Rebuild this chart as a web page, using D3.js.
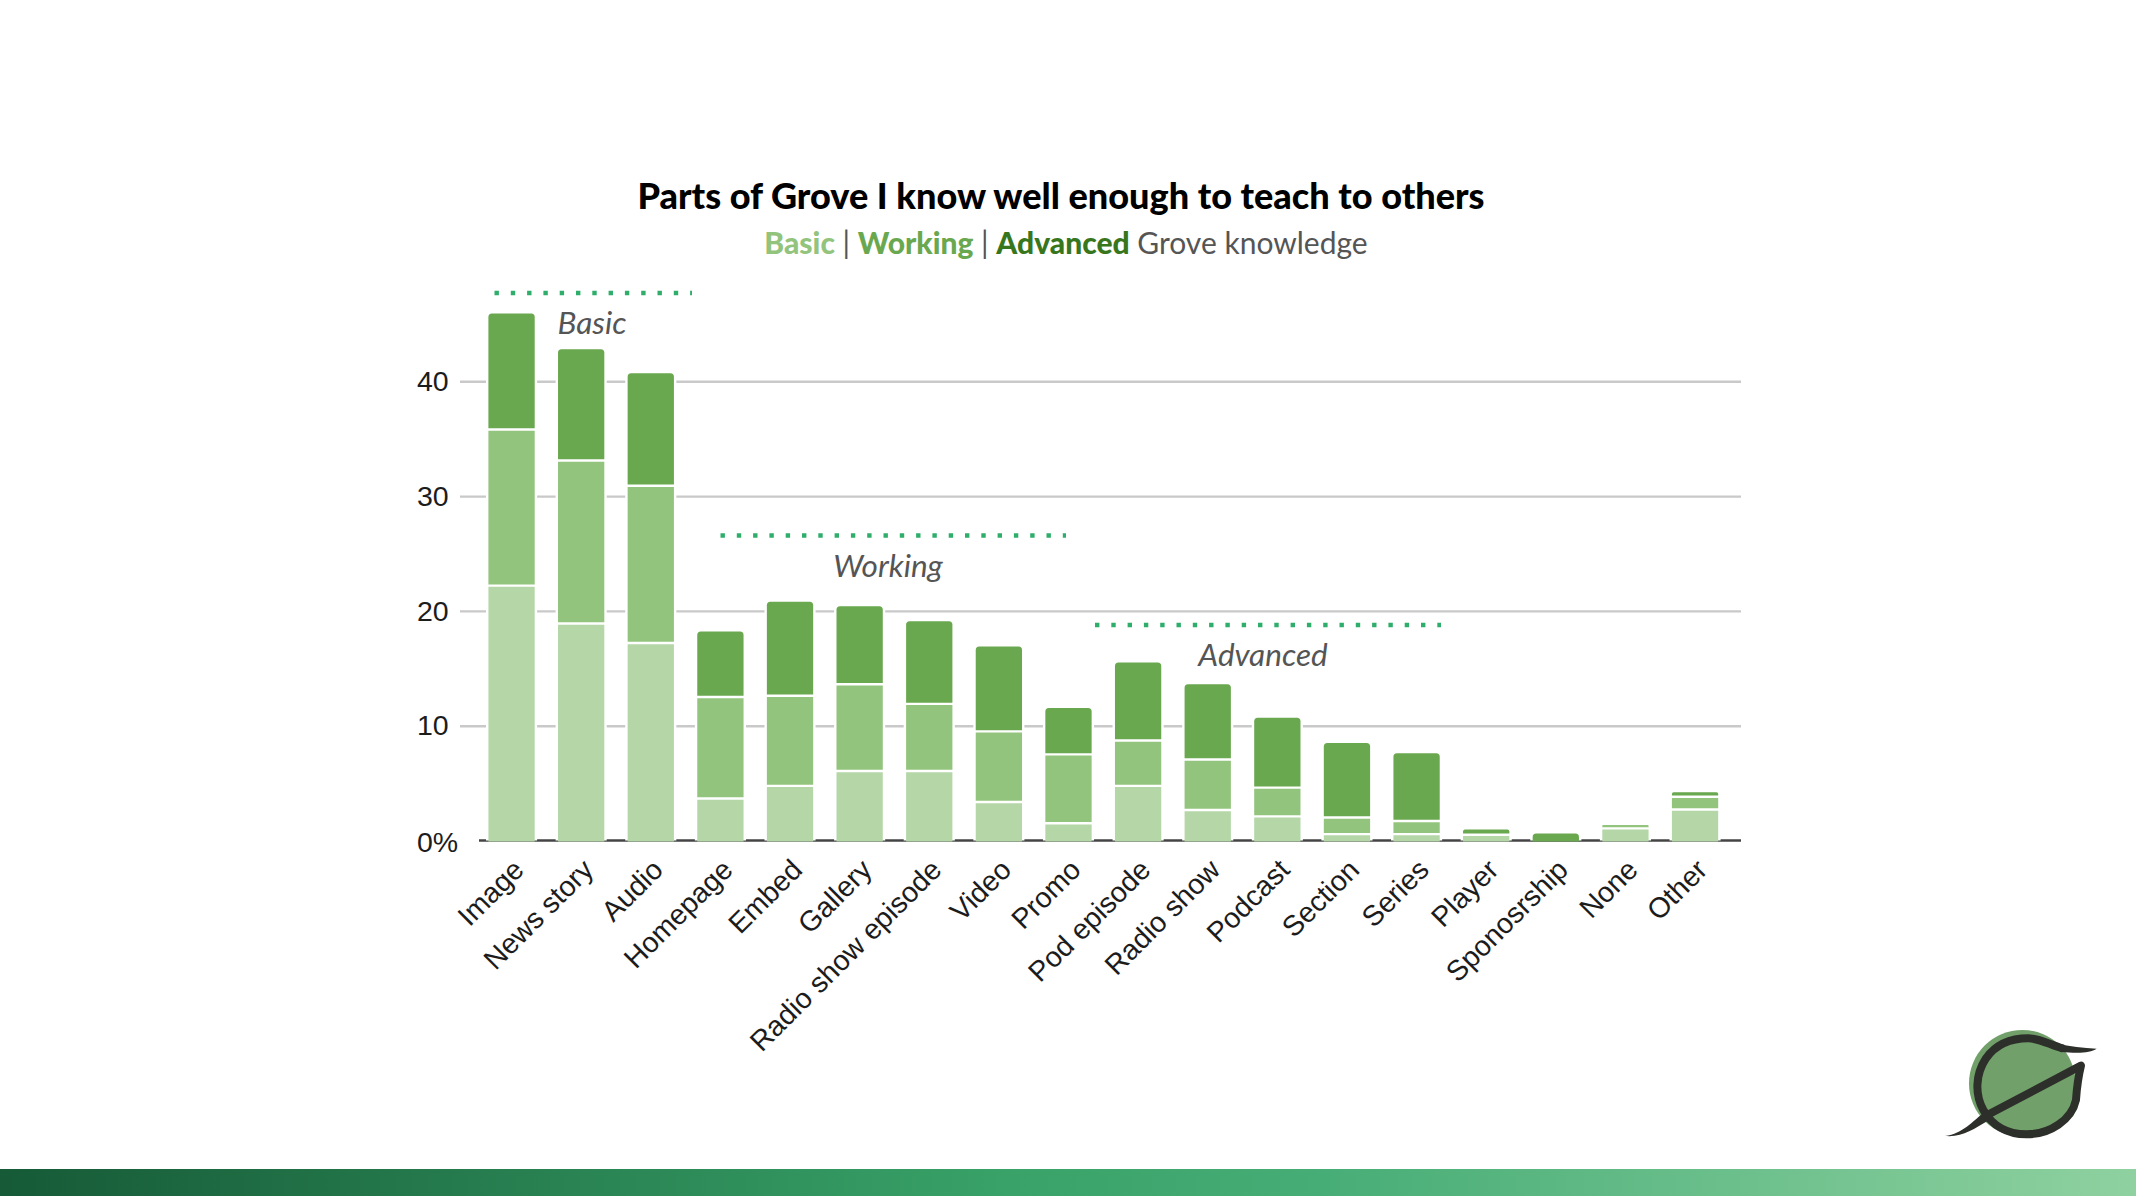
<!DOCTYPE html>
<html>
<head>
<meta charset="utf-8">
<script src="https://d3js.org/d3.v7.min.js"></script>
<style>
  html, body { margin: 0; padding: 0; background: #fff; }
  svg { display: block; }
  .title { font-family: Lato, sans-serif; font-weight: 900; font-size: 36.1px; fill: #000; }
  .subtitle { font-family: Lato, sans-serif; font-size: 30px; fill: #555; }
  .note { font-family: Lato, sans-serif; font-style: italic; font-size: 31.5px; fill: #555; }
  .tick text { font-family: "Liberation Sans", Arial, sans-serif; font-size: 28.5px; fill: #1c1c1c; }
</style>
</head>
<body>
<script>
const categories = ["Image", "News story", "Audio", "Homepage", "Embed", "Gallery", "Radio show episode", "Video", "Promo",
  "Pod episode", "Radio show", "Podcast", "Section", "Series", "Player", "Sponosrship", "None", "Other"];

// percent of respondents
const basic =    [22.1, 18.8, 17.1, 3.55, 4.65, 5.95, 5.95, 3.25, 1.4, 4.65, 2.55, 2.0, 0.45, 0.45, 0.4, 0, 0.95, 2.6];
const working =  [13.6, 14.2, 13.7, 8.85, 7.85, 7.55, 5.85, 6.15, 6.0, 3.95, 4.4, 2.5, 1.45, 1.15, 0, 0, 0.4, 1.1];
const advanced = [10.2, 9.8, 9.9, 5.8, 8.3, 6.9, 7.3, 7.5, 4.15, 6.9, 6.65, 6.2, 6.6, 6.0, 0.55, 0.6, 0, 0.5];

const yTicks = [0, 10, 20, 30, 40];
const noteLabels = ["Basic", "Working", "Advanced"];

const w = 2136;
const h = 1196;
const colors = ["#b5d7a8", "#93c47d", "#6aa84f"];
const gap = 2.4;

const svg = d3.select("body").append("svg").attr("width", w).attr("height", h);

// title + colored subtitle
svg.append("text").attr("class", "title")
  .attr("x", 1061).attr("y", 209).attr("text-anchor", "middle")
  .text("Parts of Grove I know well enough to teach to others");

const sub = svg.append("text").attr("class", "subtitle")
  .attr("x", 1066).attr("y", 254).attr("text-anchor", "middle");
sub.append("tspan").style("font-weight", 900).attr("fill", "#93c47d").text("Basic");
sub.append("tspan").text(" | ");
sub.append("tspan").style("font-weight", 900).attr("fill", "#6aa84f").text("Working");
sub.append("tspan").text(" | ");
sub.append("tspan").style("font-weight", 900).attr("fill", "#38761d").text("Advanced");
sub.append("tspan").text(" Grove knowledge");

const x = d3.scaleBand().domain(categories).range([488.4, 1718.2]).paddingInner(0.335);
const y = d3.scaleLinear().domain([0, 40]).range([840.5, 381.3]);

// grid lines
const gridAxis = d3.axisLeft(y).tickValues(yTicks.slice(1)).tickSize(-(1741 - 460)).tickFormat("");
svg.append("g").attr("transform", "translate(460,0)").call(gridAxis)
  .call(g => g.select(".domain").remove())
  .selectAll("line").attr("stroke", "#c9c9c9").attr("stroke-width", 2.4);

svg.append("line").attr("x1", 479).attr("x2", 1741).attr("y1", y(0)).attr("y2", y(0))
  .attr("stroke", "#444444").attr("stroke-width", 2.4);

const rows = categories.map((c, i) => ({ cat: c, basic: basic[i], working: working[i], advanced: advanced[i] }));
const keys = ["basic", "working", "advanced"];
const series = d3.stack().keys(keys)(rows);

// white halo that cuts the grid lines next to each bar
svg.append("g").selectAll("rect").data(rows).enter().append("rect")
  .attr("x", d => x(d.cat) - gap)
  .attr("width", x.bandwidth() + gap * 2)
  .attr("y", d => y(d.basic + d.working + d.advanced))
  .attr("height", d => y(0) - y(d.basic + d.working + d.advanced))
  .attr("fill", "#fff");

// top of the stack gets small round corners
const segPath = (d, isTop) => {
  const l = x(d.data.cat), r = l + x.bandwidth();
  const t = y(d[1]);
  const b = d[0] > 0 ? y(d[0]) - gap : y(0) + 1;
  const rad = isTop ? Math.min(3.5, (b - t) / 2) : 0;
  return `M${l},${b}L${l},${t + rad}Q${l},${t} ${l + rad},${t}L${r - rad},${t}Q${r},${t} ${r},${t + rad}L${r},${b}Z`;
};

svg.append("g").selectAll("g").data(series).enter().append("g")
  .attr("fill", (d, i) => colors[i])
  .selectAll("path")
  .data(d => d.filter(v => v[1] > v[0]))
  .enter().append("path")
  .attr("d", function (d) {
    const total = d.data.basic + d.data.working + d.data.advanced;
    return segPath(d, Math.abs(d[1] - total) < 1e-6);
  });

// y labels sit left aligned, 0% runs wider
const yAxis = d3.axisLeft(y).tickValues(yTicks).tickSize(0).tickFormat(d => d === 0 ? "0%" : d);
svg.append("g").attr("transform", "translate(417,0)").call(yAxis)
  .call(g => g.select(".domain").remove())
  .selectAll("text").attr("x", 0).attr("text-anchor", "start")
  .attr("dy", d => d === 0 ? "0.4em" : "0.32em");

// x labels
const xAxis = d3.axisBottom(x).tickSize(0);
svg.append("g").attr("transform", "translate(0," + y(0) + ")").call(xAxis)
  .call(g => g.select(".domain").remove())
  .selectAll("text")
  .attr("text-anchor", "end")
  .attr("x", 0).attr("y", 0).attr("dy", 0)
  .attr("transform", "translate(14,31) rotate(-45)");

// dotted brackets + italic notes
const brackets = [[494.5, 692, 293, 592, 334], [720.5, 1066, 535.5, 888, 577], [1095, 1441, 625, 1263, 666]];
brackets.forEach((b, i) => {
  svg.append("line").attr("x1", b[0]).attr("x2", b[1]).attr("y1", b[2]).attr("y2", b[2])
    .attr("stroke", "#2fae6b").attr("stroke-width", 4.4).attr("stroke-dasharray", "4.4 11.9");
  svg.append("text").attr("class", "note").attr("x", b[3]).attr("y", b[4])
    .attr("text-anchor", "middle").text(noteLabels[i]);
});

// bottom band
const grad = svg.append("defs").append("linearGradient").attr("id", "band");
[[0, "#165a37"], [0.47, "#38a268"], [0.62, "#47ad76"], [1, "#8fd1a0"]].forEach(s => {
  grad.append("stop").attr("offset", s[0]).attr("stop-color", s[1]);
});
svg.append("rect").attr("x", 0).attr("y", 1169).attr("width", w).attr("height", h - 1169).attr("fill", "url(#band)");

// logo
const logo = svg.append("g").attr("transform", "translate(1900,1000) scale(0.3333)");
logo.append("circle").attr("cx", 367).attr("cy", 250).attr("r", 160).attr("fill", "#72a06a");
logo.append("path")
  .attr("d", "M262,345L543,197C535,230 530,270 528,300C515,360 450,403 380,403C320,403 275,375 250,330C225,285 225,225 258,175C290,130 340,115 385,115C420,115 450,135 490,146")
  .attr("fill", "none").attr("stroke", "#2d2f2a").attr("stroke-width", 24).attr("stroke-linejoin", "round");
logo.append("path").attr("d", "M135,408C190,400 215,365 255,335L272,358C215,390 190,412 135,408Z").attr("fill", "#2d2f2a");
logo.append("path").attr("d", "M470,130C510,140 550,145 590,146C570,160 530,160 480,155Z").attr("fill", "#2d2f2a");
</script>
</body>
</html>
